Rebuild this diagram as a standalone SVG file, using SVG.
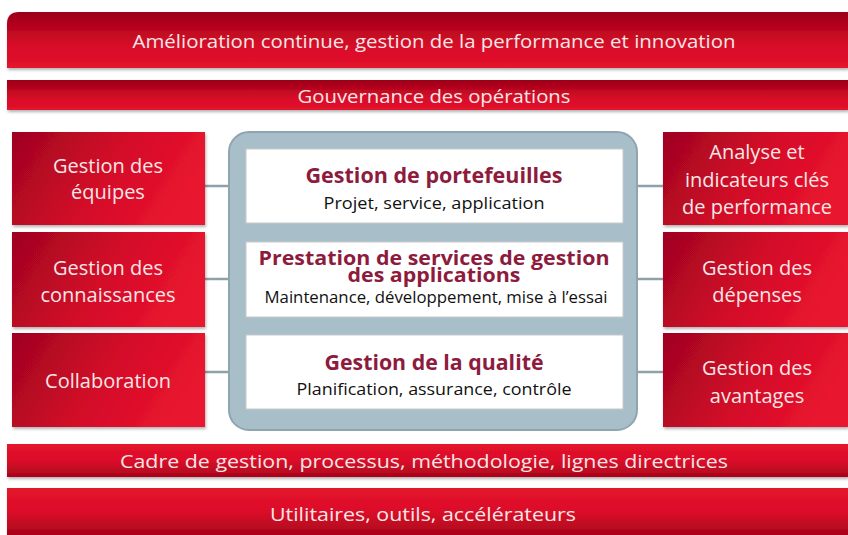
<svg xmlns="http://www.w3.org/2000/svg" width="848" height="535" viewBox="0 0 848 535">
<defs>
<linearGradient id="gTop" x1="0" y1="0" x2="0" y2="1"><stop offset="0" stop-color="#9a0018"/><stop offset="0.6" stop-color="#d80c28"/><stop offset="1" stop-color="#e2132d"/></linearGradient>
<linearGradient id="gBot" x1="0" y1="0" x2="0" y2="1"><stop offset="0" stop-color="#e3132d"/><stop offset="0.5" stop-color="#dc0f29"/><stop offset="1" stop-color="#a8041c"/></linearGradient>
<linearGradient id="gBox" x1="0" y1="0" x2="1" y2="0.3"><stop offset="0" stop-color="#9e0420"/><stop offset="0.55" stop-color="#d20b28"/><stop offset="1" stop-color="#e8142e"/></linearGradient>
<filter id="sh" x="-5%" y="-10%" width="110%" height="130%"><feDropShadow dx="1" dy="2" stdDeviation="1.5" flood-color="#000" flood-opacity="0.3"/></filter>
</defs>
<style>
.bar{filter:url(#sh)}
.box{fill:url(#gBox);filter:url(#sh)}
.wt{font-family:"Open Sans","Liberation Sans",sans-serif;fill:#f7e6e6;text-anchor:middle}
.bt{font-size:20px}
.hd{font-family:"Open Sans","Liberation Sans",sans-serif;font-weight:bold;fill:#8d1b3d;text-anchor:middle;font-size:21px}
.hs{font-size:19px}
.sb{font-family:"Open Sans","Liberation Sans",sans-serif;fill:#111;text-anchor:middle;font-size:17px}
.con{stroke:#8fa1a8;stroke-width:2.5;fill:none}
.wb{fill:#fff;stroke:#c9c9c9;stroke-width:1}
</style>
<rect width="848" height="535" fill="#fff"/>

<g id="top1">
<path class="bar" d="M7 24 Q7 12 19 12 H848 V68 H7 Z" fill="url(#gTop)"/>
<text class="wt" x="434" y="48" font-size="19" textLength="603" lengthAdjust="spacingAndGlyphs">Amélioration continue, gestion de la performance et innovation</text>
</g>
<g id="top2">
<rect class="bar" x="7" y="80" width="841" height="30" fill="url(#gTop)"/>
<text class="wt" x="434" y="103" font-size="18" textLength="273" lengthAdjust="spacingAndGlyphs">Gouvernance des opérations</text>
</g>

<g id="connectors">
<line class="con" x1="205" y1="186" x2="230" y2="186"/>
<line class="con" x1="205" y1="279" x2="230" y2="279"/>
<line class="con" x1="205" y1="372" x2="230" y2="372"/>
<line class="con" x1="636" y1="186" x2="663" y2="186"/>
<line class="con" x1="636" y1="279" x2="663" y2="279"/>
<line class="con" x1="636" y1="372" x2="663" y2="372"/>
</g>

<g id="left1"><rect class="box" x="12" y="132" width="193" height="93"/>
<text class="wt bt" x="108" y="173">Gestion des</text><text class="wt bt" x="108" y="199">équipes</text></g>
<g id="left2"><rect class="box" x="12" y="232" width="193" height="95"/>
<text class="wt bt" x="108" y="275">Gestion des</text><text class="wt bt" x="108" y="302">connaissances</text></g>
<g id="left3"><rect class="box" x="12" y="333" width="193" height="94"/>
<text class="wt bt" x="108" y="388">Collaboration</text></g>

<g id="center">
<rect x="229" y="132" width="408" height="298" rx="20" fill="#a8bfca" stroke="#8ea5b0" stroke-width="2"/>
<g id="c1"><rect class="wb" x="246" y="149" width="377" height="74"/>
<text class="hd" x="434" y="183" textLength="257" lengthAdjust="spacingAndGlyphs">Gestion de portefeuilles</text>
<text class="sb" x="434" y="209" textLength="221" lengthAdjust="spacingAndGlyphs">Projet, service, application</text></g>
<g id="c2"><rect class="wb" x="246" y="242" width="377" height="75"/>
<text class="hd hs" x="434" y="265" textLength="351" lengthAdjust="spacingAndGlyphs">Prestation de services de gestion</text>
<text class="hd hs" x="434" y="282" textLength="173" lengthAdjust="spacingAndGlyphs">des applications</text>
<text class="sb" x="436" y="303" font-size="16" textLength="343" lengthAdjust="spacingAndGlyphs">Maintenance, développement, mise à l’essai</text></g>
<g id="c3"><rect class="wb" x="246" y="335" width="377" height="74"/>
<text class="hd" x="434" y="370" textLength="219" lengthAdjust="spacingAndGlyphs">Gestion de la qualité</text>
<text class="sb" x="434" y="395" textLength="275" lengthAdjust="spacingAndGlyphs">Planification, assurance, contrôle</text></g>
</g>

<g id="right1"><rect class="box" x="663" y="132" width="185" height="93"/>
<text class="wt bt" x="757" y="159">Analyse et</text><text class="wt bt" x="757" y="187">indicateurs clés</text><text class="wt bt" x="757" y="214">de performance</text></g>
<g id="right2"><rect class="box" x="663" y="232" width="185" height="95"/>
<text class="wt bt" x="757" y="275">Gestion des</text><text class="wt bt" x="757" y="302">dépenses</text></g>
<g id="right3"><rect class="box" x="663" y="333" width="185" height="94"/>
<text class="wt bt" x="757" y="375">Gestion des</text><text class="wt bt" x="757" y="403">avantages</text></g>

<g id="bot1">
<rect class="bar" x="7" y="444" width="841" height="33" fill="url(#gBot)"/>
<text class="wt" x="424" y="468" font-size="19" textLength="608" lengthAdjust="spacingAndGlyphs">Cadre de gestion, processus, méthodologie, lignes directrices</text>
</g>
<g id="bot2">
<rect class="bar" x="7" y="488" width="841" height="47" fill="url(#gBot)"/>
<text class="wt" x="423" y="521" font-size="19" textLength="306" lengthAdjust="spacingAndGlyphs">Utilitaires, outils, accélérateurs</text>
</g>
</svg>
